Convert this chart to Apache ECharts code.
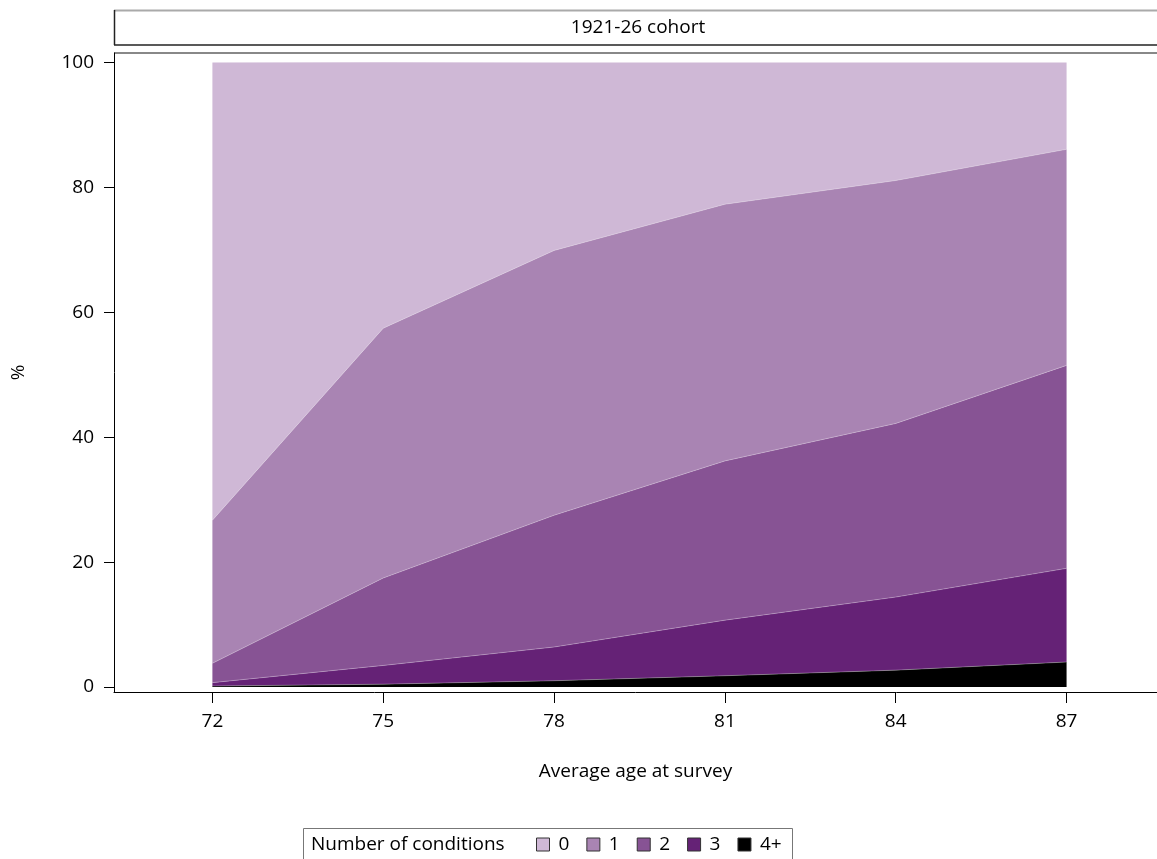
<!DOCTYPE html>
<html>
<head>
<meta charset="utf-8">
<script src="https://cdn.jsdelivr.net/npm/echarts@6/dist/echarts.min.js"></script>
<style>
html,body{margin:0;padding:0;background:#fff;}
#chart{width:1157px;height:859px;}
</style>
</head>
<body>
<div id="chart"></div>
<script>
// ---- data ----
const ages = [72, 75, 78, 81, 84, 87];
const xTicks = [72, 75, 78, 81, 84, 87];
const yTicks = [0, 20, 40, 60, 80, 100];
const seriesNames = ['0', '1', '2', '3', '4+'];
const cond0 = [73.3, 42.6, 30.1, 22.7, 18.9, 13.9];
const cond1 = [22.9, 40.0, 42.4, 41.1, 38.9, 34.6];
const cond2 = [3.1, 14.0, 21.1, 25.5, 27.8, 32.5];
const cond3 = [0.55, 3.0, 5.4, 8.9, 11.7, 15.0];
const cond4p = [0.15, 0.45, 1.0, 1.8, 2.7, 4.0];
const stripTitle = '1921-26 cohort';
const xTitle = 'Average age at survey';
const yTitle = '%';
const legendTitle = 'Number of conditions';

const colors = {'0':'#cfb8d6','1':'#a984b3','2':'#875394','3':'#652276','4+':'#000000'};
const FONT = 'Open Sans';
const FS = 19;

function mk(name, vals, z) {
  return {
    name: name, type: 'line', stack: 'total', symbol: 'none', z: z,
    // value first so that the stacked dimension is the y value
    data: ages.map((a, i) => [vals[i], a]),
    encode: {x: 1, y: 0},
    lineStyle: {width: name === '0' ? 0 : 0.8, color: 'rgba(255,255,255,0.35)'},
    itemStyle: {color: colors[name]},
    areaStyle: {color: colors[name], opacity: 1}
  };
}

const chart = echarts.init(document.getElementById('chart'), null, {renderer: 'canvas'});
const option = {
  animation: false,
  textStyle: {fontFamily: FONT},
  grid: {left: 114, right: 0, top: 53, bottom: 167, containLabel: false},
  xAxis: {
    type: 'value', min: 70.272, max: 88.588,
    axisLine: {show: true, onZero: false, lineStyle: {color: '#000', width: 1}},
    axisTick: {show: true, customValues: xTicks, length: 11, lineStyle: {color: '#000'}},
    axisLabel: {customValues: xTicks, margin: 20, fontSize: FS, color: '#000', fontFamily: FONT},
    splitLine: {show: false},
    name: xTitle, nameLocation: 'middle', nameGap: 70,
    nameTextStyle: {fontSize: FS, color: '#000', fontFamily: FONT}
  },
  yAxis: {
    type: 'value', min: -0.8, max: 101.52,
    axisLine: {show: true, onZero: false, lineStyle: {color: '#000', width: 1}},
    axisTick: {show: true, customValues: yTicks, length: 10, lineStyle: {color: '#000'}},
    axisLabel: {customValues: yTicks, margin: 20, fontSize: FS, color: '#000', fontFamily: FONT},
    splitLine: {show: false},
    name: yTitle, nameLocation: 'middle', nameGap: 86, nameRotate: 90,
    nameTextStyle: {fontSize: FS, color: '#000', fontFamily: FONT}
  },
  legend: {
    data: seriesNames,
    left: 531, top: 830,
    icon: 'rect', itemWidth: 13, itemHeight: 13, itemGap: 17,
    itemStyle: {borderColor: '#333', borderWidth: 1},
    textStyle: {fontSize: FS, color: '#000', fontFamily: FONT, padding: [0,0,0,4]},
    selectedMode: false
  },
  graphic: [
    {type: 'rect', shape: {x: 114, y: 10, width: 1100, height: 35}, style: {fill: '#fff', stroke: null}, silent: true},
    {type: 'line', shape: {x1: 114, y1: 10.5, x2: 1157, y2: 10.5}, style: {stroke: '#aaa', lineWidth: 2}},
    {type: 'line', shape: {x1: 114, y1: 45, x2: 1157, y2: 45}, style: {stroke: '#222', lineWidth: 1.5}},
    {type: 'line', shape: {x1: 114.5, y1: 10, x2: 114.5, y2: 45}, style: {stroke: '#222', lineWidth: 1.5}},
    {type: 'text', x: 638, y: 28, style: {text: stripTitle, fontSize: FS, fill: '#000', fontFamily: FONT, align: 'center', verticalAlign: 'middle'}},
    {type: 'line', shape: {x1: 114, y1: 53, x2: 1157, y2: 53}, style: {stroke: '#888', lineWidth: 2}},
    {type: 'rect', shape: {x: 303.5, y: 828.5, width: 489, height: 40}, style: {fill: 'none', stroke: '#777', lineWidth: 1}, z: -1},
    {type: 'text', x: 311, y: 845, style: {text: legendTitle, fontSize: FS, fill: '#000', fontFamily: FONT, align: 'left', verticalAlign: 'middle'}}
  ],
  series: [
    mk('4+', cond4p, 6),
    mk('3', cond3, 5),
    mk('2', cond2, 4),
    mk('1', cond1, 3),
    mk('0', cond0, 2)
  ]
};
chart.setOption(option);
</script>
</body>
</html>
